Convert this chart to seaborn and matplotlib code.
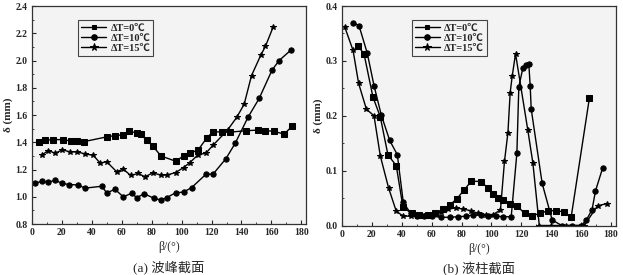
import numpy as np
import pandas as pd
import seaborn as sns
import matplotlib.pyplot as plt
from matplotlib.ticker import MultipleLocator

# ---- data, (a) crest section ----
beta_a0 = [4.9, 8.9, 14.4, 20.7, 26.2, 30.4, 34.7, 50, 55.6, 61.1, 65.1, 70, 72.7, 76.7, 80.7,
           86.2, 96, 101.3, 105.6, 111.1, 116.7, 120.7, 126.7, 132.2, 142.9, 150.7, 155.6,
           161.6, 168.4, 174]
a0 = [1.40, 1.415, 1.42, 1.42, 1.41, 1.41, 1.405, 1.44, 1.45, 1.455, 1.48, 1.47, 1.46, 1.415,
      1.375, 1.30, 1.262, 1.30, 1.32, 1.345, 1.43, 1.475, 1.478, 1.475, 1.485, 1.49, 1.485,
      1.482, 1.46, 1.52]

beta_a10 = [2.2, 7.1, 11.1, 15.6, 20, 24.9, 30.7, 35.6, 46.7, 50, 55.6, 61.1, 66.7, 70, 75.1,
            81.6, 86.2, 90, 96, 101.3, 106.7, 116.2, 121.1, 129.6, 135.8, 144.4, 151.8, 160.4,
            165.1, 173.3]
a10 = [1.10, 1.115, 1.107, 1.122, 1.10, 1.09, 1.088, 1.064, 1.078, 1.03, 1.055, 1.0, 1.027,
       0.995, 1.022, 0.99, 0.976, 0.994, 1.03, 1.035, 1.068, 1.165, 1.168, 1.28, 1.393, 1.585,
       1.722, 1.93, 2.0, 2.08]

beta_a15 = [7.1, 11.1, 15.6, 20.4, 25.6, 30.4, 35.6, 41.1, 45.6, 50, 56.7, 61.1, 66, 71.1, 75.6,
            80.7, 86.2, 90, 96, 101.3, 105.6, 111.1, 116.2, 121.1, 130.7, 136.9, 141.8, 146.7,
            152.9, 156, 161.1]
a15 = [1.31, 1.34, 1.32, 1.345, 1.33, 1.33, 1.315, 1.305, 1.248, 1.258, 1.184, 1.204, 1.157,
       1.172, 1.147, 1.176, 1.16, 1.16, 1.178, 1.215, 1.252, 1.31, 1.32, 1.38, 1.49, 1.585,
       1.68, 1.89, 2.04, 2.105, 2.245]

# ---- data, (b) column section ----
beta_b0 = [10.7, 14.7, 20.7, 25.6, 30.7, 36.3, 40.8, 46.8, 51.2, 57.5, 62, 67.6, 72.4, 76.9,
           81.5, 86.5, 93.2, 97.6, 100.9, 104.3, 107.6, 112.7, 117.2, 122.1, 127.2, 132.6,
           137.7, 143.3, 148.4, 153.3, 165.5]
b0 = [0.327, 0.313, 0.234, 0.198, 0.129, 0.109, 0.033, 0.022, 0.019, 0.020, 0.022, 0.030,
      0.038, 0.049, 0.064, 0.081, 0.080, 0.068, 0.057, 0.050, 0.047, 0.040, 0.036, 0.022,
      0.018, 0.022, 0.027, 0.027, 0.025, 0.015, 0.232]

beta_b10 = [7.4, 11.4, 16.9, 21.4, 26.3, 31.9, 37, 41, 46, 50, 55, 60, 66.4, 72, 77.5, 83.1,
            87.5, 93.2, 98, 103.2, 108, 113.2, 117, 118.3, 121, 123.2, 125, 125.9, 126.6,
            133.9, 140.6, 147, 154, 160, 163.5, 167.3, 169.6, 174.4]
b10 = [0.370, 0.364, 0.314, 0.255, 0.201, 0.155, 0.129, 0.042, 0.022, 0.018, 0.017, 0.017,
       0.015, 0.015, 0.016, 0.017, 0.019, 0.019, 0.018, 0.017, 0.016, 0.016, 0.132, 0.253,
       0.287, 0.293, 0.294, 0.254, 0.212, 0.077, 0.010, 0.0, 0.0, 0.0, 0.010, 0.029, 0.063,
       0.105]

beta_b15 = [1.8, 7.4, 11.1, 16.3, 21.4, 25.6, 31.2, 36.3, 41, 46, 50, 55, 60, 66, 71, 76, 81,
            86, 91, 96, 101, 106, 108.7, 111, 112.5, 113.9, 116.1, 124.3, 127.7, 132, 140, 150,
            162, 171, 177.5]
b15 = [0.362, 0.319, 0.259, 0.212, 0.200, 0.127, 0.068, 0.026, 0.017, 0.017, 0.018, 0.018,
       0.019, 0.024, 0.030, 0.032, 0.030, 0.027, 0.022, 0.020, 0.020, 0.028, 0.117, 0.169,
       0.242, 0.273, 0.313, 0.174, 0.114, 0.0, 0.0, 0.0, 0.0, 0.036, 0.040]

labels = ["ΔT=0℃", "ΔT=10℃", "ΔT=15℃"]
captions = ["(a) 波峰截面", "(b) 液柱截面"]


def long_df(betas, vals):
    parts = []
    for lab, b, v in zip(labels, betas, vals):
        parts.append(pd.DataFrame({"beta": b, "delta": v, "series": lab}))
    return pd.concat(parts, ignore_index=True)


df_a = long_df([beta_a0, beta_a10, beta_a15], [a0, a10, a15])
df_b = long_df([beta_b0, beta_b10, beta_b15], [b0, b10, b15])

sns.set_style("ticks")
plt.rcParams["font.family"] = ["Liberation Serif", "Noto Sans CJK SC"]

fig = plt.figure(figsize=(6.23, 2.75), dpi=100)
ax1 = fig.add_axes([0.051, 0.185, 0.440, 0.793])
ax2 = fig.add_axes([0.549, 0.180, 0.439, 0.798])

marks = {labels[0]: "s", labels[1]: "o", labels[2]: "*"}
msize = {labels[0]: 3.5, labels[1]: 4, labels[2]: 5.5}

for ax, df, ylim, ymaj, ymin, cap, legx in [
        (ax1, df_a, (0.8, 2.4), 0.2, 0.1, captions[0], 0.15),
        (ax2, df_b, (0.0, 0.4), 0.1, 0.05, captions[1], 0.235)]:
    ax.set_facecolor("#f3f3f3")
    sns.lineplot(data=df, x="beta", y="delta", hue="series", style="series",
                 markers=marks, dashes=False, palette=["black"] * 3,
                 estimator=None, sort=False, linewidth=1.0, markersize=3.8,
                 markeredgecolor="black", ax=ax)
    ax.set_xlim(0, 183)
    ax.set_ylim(*ylim)
    ax.xaxis.set_major_locator(MultipleLocator(20))
    ax.xaxis.set_minor_locator(MultipleLocator(10))
    ax.yaxis.set_major_locator(MultipleLocator(ymaj))
    ax.yaxis.set_minor_locator(MultipleLocator(ymin))
    ax.tick_params(which="both", direction="in", top=False, right=False,
                   labelsize=7, pad=3)
    ax.tick_params(which="major", length=3)
    ax.tick_params(which="minor", length=1.5)
    for t in ax.get_xticklabels() + ax.get_yticklabels():
        t.set_fontweight("bold")
    ax.yaxis.set_major_formatter(plt.FormatStrFormatter("%.1f"))
    for s in ax.spines.values():
        s.set_linewidth(0.9)
        s.set_color("#333333")
    ax.set_xlabel("β/(°)", fontsize=8.5, labelpad=3)
    ax.set_ylabel("δ (mm)", fontsize=8, labelpad=2, fontweight="bold")
    ax.text(0.5, -0.198, cap, transform=ax.transAxes, ha="center", va="center",
            fontsize=9.5)
    handles, labs = ax.get_legend_handles_labels()
    for h in handles:
        h.set_markersize(msize.get(h.get_label(), 4))
    leg = ax.legend(handles, labs, loc="upper left", bbox_to_anchor=(legx, 0.96),
                    frameon=True, fancybox=False, edgecolor="#444444",
                    framealpha=1, facecolor="#f3f3f3", fontsize=7.5,
                    handlelength=2.4, handletextpad=0.4, borderpad=0.3,
                    labelspacing=0.1)
    leg.get_frame().set_linewidth(0.8)
    for t in leg.get_texts():
        t.set_fontweight("bold")

fig.savefig("out.png", dpi=100)
